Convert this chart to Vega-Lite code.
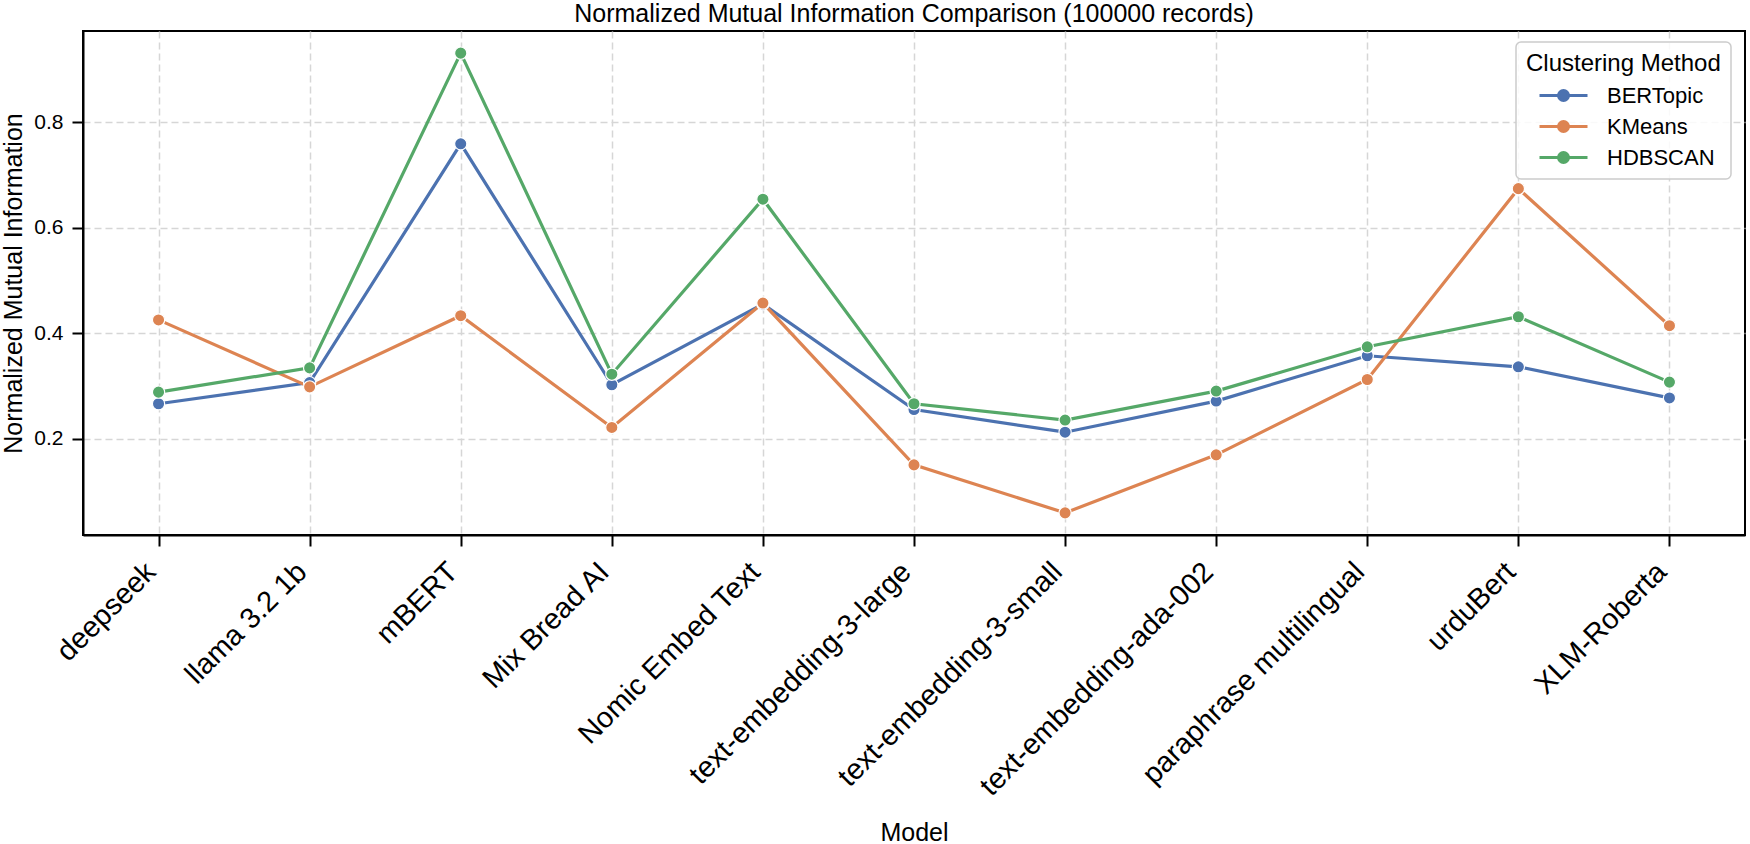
{
  "$schema": "https://vega.github.io/schema/vega-lite/v6.json",
  "autosize": {"type": "none"},
  "padding": {"left": 83, "top": 31, "right": 5, "bottom": 309},
  "width": 1662,
  "height": 504,
  "background": "white",
  "title": {
    "text": "Normalized Mutual Information Comparison (100000 records)",
    "fontSize": 25,
    "fontWeight": "normal",
    "color": "black",
    "anchor": "middle",
    "offset": 4
  },
  "data": {
    "values": [
      {"model": "deepseek", "method": "BERTopic", "nmi": 0.266},
      {"model": "deepseek", "method": "KMeans", "nmi": 0.425},
      {"model": "deepseek", "method": "HDBSCAN", "nmi": 0.288},
      {"model": "llama 3.2 1b", "method": "BERTopic", "nmi": 0.306},
      {"model": "llama 3.2 1b", "method": "KMeans", "nmi": 0.298},
      {"model": "llama 3.2 1b", "method": "HDBSCAN", "nmi": 0.334},
      {"model": "mBERT", "method": "BERTopic", "nmi": 0.759},
      {"model": "mBERT", "method": "KMeans", "nmi": 0.433},
      {"model": "mBERT", "method": "HDBSCAN", "nmi": 0.931},
      {"model": "Mix Bread AI", "method": "BERTopic", "nmi": 0.302},
      {"model": "Mix Bread AI", "method": "KMeans", "nmi": 0.221},
      {"model": "Mix Bread AI", "method": "HDBSCAN", "nmi": 0.322},
      {"model": "Nomic Embed Text", "method": "BERTopic", "nmi": 0.455},
      {"model": "Nomic Embed Text", "method": "KMeans", "nmi": 0.457},
      {"model": "Nomic Embed Text", "method": "HDBSCAN", "nmi": 0.654},
      {"model": "text-embedding-3-large", "method": "BERTopic", "nmi": 0.255},
      {"model": "text-embedding-3-large", "method": "KMeans", "nmi": 0.150},
      {"model": "text-embedding-3-large", "method": "HDBSCAN", "nmi": 0.266},
      {"model": "text-embedding-3-small", "method": "BERTopic", "nmi": 0.212},
      {"model": "text-embedding-3-small", "method": "KMeans", "nmi": 0.059},
      {"model": "text-embedding-3-small", "method": "HDBSCAN", "nmi": 0.235},
      {"model": "text-embedding-ada-002", "method": "BERTopic", "nmi": 0.271},
      {"model": "text-embedding-ada-002", "method": "KMeans", "nmi": 0.169},
      {"model": "text-embedding-ada-002", "method": "HDBSCAN", "nmi": 0.290},
      {"model": "paraphrase multilingual", "method": "BERTopic", "nmi": 0.357},
      {"model": "paraphrase multilingual", "method": "KMeans", "nmi": 0.312},
      {"model": "paraphrase multilingual", "method": "HDBSCAN", "nmi": 0.374},
      {"model": "urduBert", "method": "BERTopic", "nmi": 0.336},
      {"model": "urduBert", "method": "KMeans", "nmi": 0.674},
      {"model": "urduBert", "method": "HDBSCAN", "nmi": 0.431},
      {"model": "XLM-Roberta", "method": "BERTopic", "nmi": 0.277},
      {"model": "XLM-Roberta", "method": "KMeans", "nmi": 0.414},
      {"model": "XLM-Roberta", "method": "HDBSCAN", "nmi": 0.307}
    ]
  },
  "encoding": {
    "x": {
      "field": "model",
      "type": "nominal",
      "sort": null,
      "scale": {"type": "point", "padding": 0.5},
      "axis": {
        "title": "Model",
        "titleFontSize": 25,
        "titleFontWeight": "normal",
        "titleColor": "black",
        "titleBaseline": "alphabetic",
        "titleX": 831,
        "titleY": 305,
        "titleAlign": "center",
        "labelAngle": -45,
        "labelAlign": "right",
        "labelBaseline": "top",
        "labelFontSize": 29,
        "labelColor": "black",
        "labelPadding": 11,
        "labelOffset": -18,
        "labelOverlap": false,
        "labelLimit": 0,
        "tickSize": 11,
        "tickWidth": 2,
        "tickColor": "black",
        "domainColor": "black",
        "domainWidth": 2,
        "grid": true,
        "gridColor": "#d6d6d6",
        "gridDash": [7, 4],
        "gridWidth": 1.5
      }
    },
    "y": {
      "field": "nmi",
      "type": "quantitative",
      "scale": {"domain": [0.017, 0.973], "nice": false, "zero": false},
      "axis": {
        "title": "Normalized Mutual Information",
        "titleFontSize": 25,
        "titleFontWeight": "normal",
        "titleColor": "black",
        "titleAngle": 270,
        "titleBaseline": "alphabetic",
        "titleX": -62,
        "titleY": 252,
        "titleAlign": "center",
        "values": [0.2, 0.4, 0.6, 0.8],
        "format": ".1f",
        "labelFontSize": 21,
        "labelColor": "black",
        "labelPadding": 9,
        "tickSize": 11,
        "tickWidth": 2,
        "tickColor": "black",
        "domainColor": "black",
        "domainWidth": 2,
        "grid": true,
        "gridColor": "#d6d6d6",
        "gridDash": [7, 4],
        "gridWidth": 1.5
      }
    },
    "color": {
      "field": "method",
      "type": "nominal",
      "sort": ["BERTopic", "KMeans", "HDBSCAN"],
      "scale": {"domain": ["BERTopic", "KMeans", "HDBSCAN"], "range": ["#4C72B0", "#DD8452", "#55A868"]},
      "legend": {
        "title": "Clustering Method",
        "orient": "none",
        "legendX": 1433,
        "legendY": 11,
        "titleFontSize": 24,
        "titleFontWeight": "normal",
        "titleColor": "black",
        "titlePadding": 8,
        "titleLimit": 500,
        "labelFontSize": 22,
        "labelColor": "black",
        "labelOffset": 32,
        "labelLimit": 400,
        "rowPadding": 8,
        "padding": 10,
        "fillColor": "rgba(255,255,255,0.85)",
        "strokeColor": "#cccccc",
        "cornerRadius": 5,
        "symbolType": "M-2.4,0 L-0.6,0 M0.6,0 L2.4,0 M-0.5,0 A0.5,0.5 0 1,1 0.5,0 A0.5,0.5 0 1,1 -0.5,0 Z",
        "symbolSize": 400,
        "symbolOffset": 26,
        "symbolStrokeWidth": 3,
        "encode": {
          "legend": {
            "update": {
              "strokeWidth": {"value": 1.5}
            }
          },
          "symbols": {
            "update": {
              "fill": {"scale": "color", "field": "value"},
              "stroke": {"scale": "color", "field": "value"},
              "opacity": {"value": 1}
            }
          }
        }
      }
    }
  },
  "layer": [
    {
      "mark": {"type": "line", "strokeWidth": 3.2}
    },
    {
      "mark": {"type": "point", "filled": true, "size": 150, "opacity": 1, "stroke": "white", "strokeWidth": 1.2}
    }
  ],
  "config": {
    "font": "Liberation Sans",
    "view": {"stroke": "black", "strokeWidth": 2}
  }
}
